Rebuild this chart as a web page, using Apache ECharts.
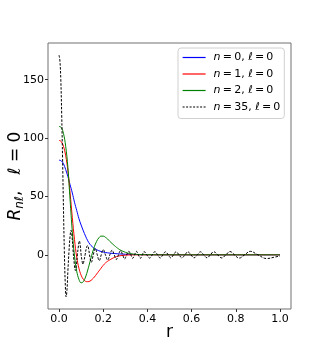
<!DOCTYPE html>
<html>
<head>
<meta charset="utf-8">
<script src="https://cdn.jsdelivr.net/npm/echarts@6/dist/echarts.min.js"></script>
<style>
  html, body { margin: 0; padding: 0; background: #fff; }
  #chart { width: 324px; height: 354px; }
</style>
</head>
<body>
<div id="chart"></div>
<script>
// radial functions, l = 0
var xTicks = [0, 0.2, 0.4, 0.6, 0.8, 1.0];
var yTicks = [0, 50, 100, 150];

var r0 = [0, 0.01, 0.02, 0.03, 0.04, 0.05, 0.06, 0.07, 0.08, 0.09, 0.10, 0.11, 0.12, 0.13, 0.14, 0.15, 0.16, 0.18, 0.20, 0.22, 0.25, 0.30, 0.35, 0.40, 0.50, 1.0];
var v0 = [81, 80.5, 78, 73, 67, 60, 53, 45, 38, 31, 25.5, 20.5, 16, 12, 9, 7, 5.5, 3.5, 2.4, 1.7, 1.1, 0.5, 0.2, 0.1, 0, 0];

var r1 = [0, 0.01, 0.02, 0.03, 0.04, 0.05, 0.06, 0.07, 0.08, 0.09, 0.10, 0.11, 0.12, 0.13, 0.14, 0.15, 0.16, 0.17, 0.18, 0.19, 0.20, 0.21, 0.22, 0.23, 0.24, 0.25, 0.27, 0.30, 0.35, 1.0];
var v1 = [98, 97, 93, 85, 72, 53, 32, 13, -2, -11.5, -17.5, -21, -22.7, -23, -22.5, -21, -19, -16.5, -14, -11.5, -9, -7, -5.5, -4.3, -3.2, -2.3, -1, -0.3, 0, 0];

var r2 = [0, 0.01, 0.02, 0.03, 0.04, 0.05, 0.06, 0.07, 0.08, 0.09, 0.10, 0.11, 0.12, 0.13, 0.14, 0.15, 0.16, 0.17, 0.18, 0.19, 0.20, 0.21, 0.22, 0.23, 0.24, 0.25, 0.26, 0.27, 0.28, 0.30, 0.32, 0.35, 0.40, 0.50, 1.0];
var v2 = [110, 109, 104, 93, 75, 47, 20, -1, -14, -21, -24, -23, -19, -13, -6, 1, 7, 11.5, 14.5, 16, 16, 15, 13.5, 11.5, 9.7, 8, 6.4, 5, 3.8, 2.2, 1.1, 0.4, 0.1, 0, 0];

var r35 = [0, 0.004, 0.008, 0.012, 0.016, 0.020, 0.024, 0.028, 0.032, 0.036, 0.040, 0.045, 0.050, 0.054, 0.058, 0.063, 0.068, 0.074, 0.079, 0.083, 0.088, 0.092, 0.096, 0.100, 0.104, 0.108, 0.113, 0.118, 0.124, 0.129, 0.134, 0.138, 0.146, 0.155, 0.164, 0.173, 0.182, 0.191, 0.200, 0.210, 0.220, 0.230, 0.240, 0.250, 0.259, 0.269, 0.278, 0.288, 0.297, 0.306, 0.316, 0.325, 0.333, 0.342, 0.350, 0.359, 0.368, 0.377, 0.385, 0.397, 0.410, 0.422, 0.434, 0.446, 0.458, 0.470, 0.482, 0.494, 0.506, 0.518, 0.530, 0.543, 0.556, 0.570, 0.583, 0.597, 0.611, 0.626, 0.640, 0.655, 0.670, 0.685, 0.700, 0.718, 0.737, 0.755, 0.774, 0.794, 0.815, 0.840, 0.866, 0.900, 0.940, 0.975, 1.0];
var v35 = [171, 166, 150, 120, 82, 40, 3, -24, -36, -30, -14, 3, 16, 21, 17, 5, -6, -13.5, -8, 0, 8, 12, 8, 0, -5, -8, -5, 0, 6, 8, 5, 0, -6.5, 0, 5.5, 0, -5, 0, 4.5, 0, -4.5, 0, 4, 0, -4, 0, 3.5, 0, -3.5, 0, 3, 0, -3, 0, 3, 0, -3, 0, 2.8, 0, -2.8, 0, 2.7, 0, -2.7, 0, 2.6, 0, -2.6, 0, 2.6, 0, -2.6, 0, 2.6, 0, -2.6, 0, 2.6, 0, -2.6, 0, 2.7, 0, -2.7, 0, 2.8, 0, -2.8, 0, 3, 0, -3.2, -2, -1];

var names = ['0|a', '1|b', '2|c', '35|d'];
var colors = ['#0000ff', '#ff0000', '#008000', '#000000'];

function pairs(xs, ys) {
  return xs.map(function (x, i) { return [x, ys[i]]; });
}

var rich = {
  i: { fontStyle: 'italic', fontFamily: 'DejaVu Sans', fontSize: 11, color: '#000' },
  t: { fontFamily: 'DejaVu Sans', fontSize: 11, color: '#000' }
};

var chart = echarts.init(document.getElementById('chart'), null, { renderer: 'canvas' });

chart.setOption({
  animation: false,
  backgroundColor: '#fff',
  grid: {
    left: 48, top: 43, width: 243, height: 266,
    outerBoundsMode: 'none', containLabel: false,
    show: true, borderColor: '#707070', borderWidth: 1
  },
  legend: {
    left: 178, top: 48, orient: 'vertical',
    padding: [4, 4, 6, 4],
    itemWidth: 23, itemHeight: 12, itemGap: 5.5,
    itemStyle: { opacity: 0 },
    borderColor: '#d0d0d0', borderWidth: 1, borderRadius: 3,
    textStyle: { fontFamily: 'DejaVu Sans', fontSize: 11, color: '#000', padding: [0, 0, 0, 3], rich: rich },
    formatter: function (name) {
      var n = name.split('|')[0];
      return '{i|n}{t|\u2009=\u2009' + n + ', }{i|ℓ}{t|\u2009=\u20090}';
    },
    data: names.map(function (nm, i) {
      return {
        name: nm,
        lineStyle: { color: colors[i], width: 1.2, type: i === 3 ? [2, 1.5] : 'solid' }
      };
    })
  },
  xAxis: {
    type: 'value', min: -0.05, max: 1.05,
    name: 'r', nameLocation: 'middle', nameGap: 15, nameMoveOverlap: false,
    nameTextStyle: { fontFamily: 'DejaVu Sans', fontSize: 17, color: '#000' },
    axisLine: { show: false, onZero: false },
    splitLine: { show: false },
    axisTick: { show: true, length: 3, customValues: xTicks, lineStyle: { color: '#333' } },
    axisLabel: {
      customValues: xTicks, margin: 5,
      fontFamily: 'DejaVu Sans', fontSize: 11, color: '#000',
      formatter: function (v) { return v.toFixed(1); }
    }
  },
  yAxis: {
    type: 'value', min: -46.4, max: 181.4,
    name: '{i|R}{s|nℓ}{t|,   }{i|ℓ}{t| = 0}', nameLocation: 'middle', nameGap: 22, nameRotate: 90,
    nameMoveOverlap: false,
    nameTextStyle: {
      fontFamily: 'DejaVu Sans', fontSize: 17, color: '#000',
      rich: {
        i: { fontStyle: 'italic', fontFamily: 'DejaVu Sans', fontSize: 17, color: '#000' },
        s: { fontStyle: 'italic', fontFamily: 'DejaVu Sans', fontSize: 12, color: '#000', verticalAlign: 'bottom', padding: [8, 0, 0, 0] },
        t: { fontFamily: 'DejaVu Sans', fontSize: 17, color: '#000' }
      }
    },
    axisLine: { show: false, onZero: false },
    splitLine: { show: false },
    axisTick: { show: true, length: 3, customValues: yTicks, lineStyle: { color: '#333' } },
    axisLabel: {
      customValues: yTicks, margin: 4,
      fontFamily: 'DejaVu Sans', fontSize: 11, color: '#000'
    }
  },
  series: [
    { name: names[0], type: 'line', data: pairs(r0, v0), showSymbol: false, symbol: 'none', smooth: 0.4,
      lineStyle: { color: colors[0], width: 1 }, itemStyle: { color: colors[0] } },
    { name: names[1], type: 'line', data: pairs(r1, v1), showSymbol: false, symbol: 'none', smooth: 0.4,
      lineStyle: { color: colors[1], width: 1 }, itemStyle: { color: colors[1] } },
    { name: names[2], type: 'line', data: pairs(r2, v2), showSymbol: false, symbol: 'none', smooth: 0.4,
      lineStyle: { color: colors[2], width: 1 }, itemStyle: { color: colors[2] } },
    { name: names[3], type: 'line', data: pairs(r35, v35), showSymbol: false, symbol: 'none', smooth: 0.4,
      lineStyle: { color: colors[3], width: 1, type: [2.5, 1.5] }, itemStyle: { color: colors[3] } }
  ]
});
</script>
</body>
</html>
